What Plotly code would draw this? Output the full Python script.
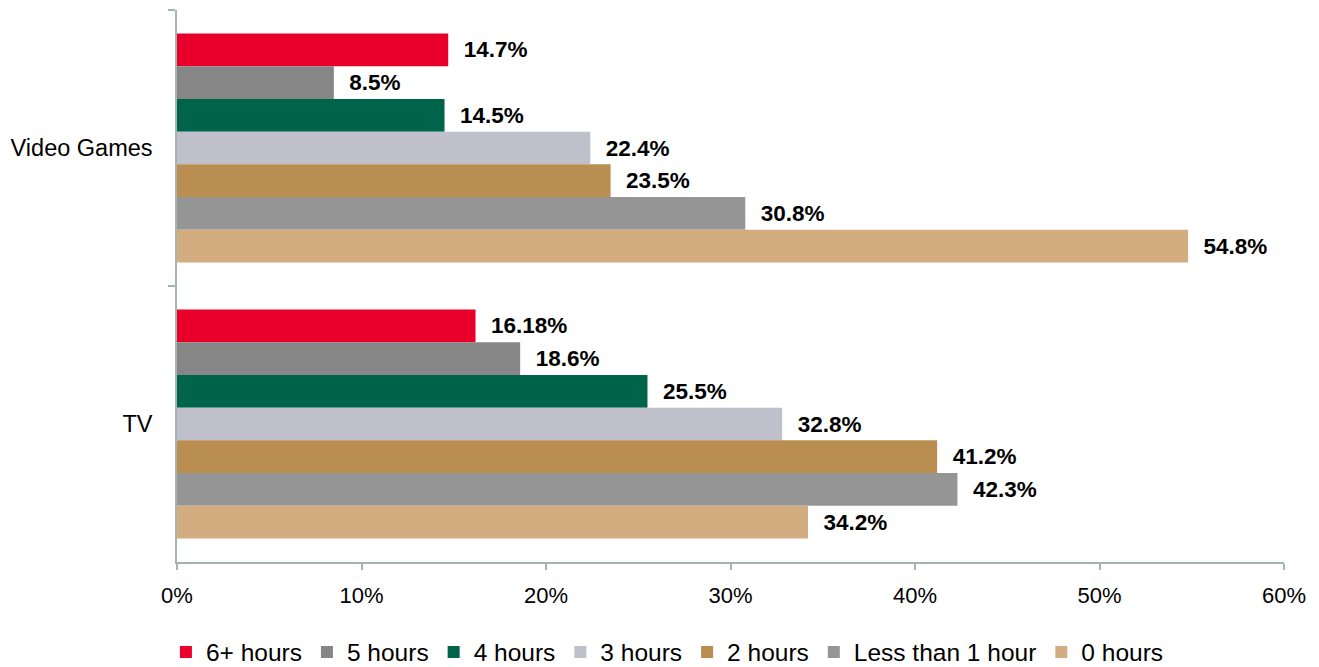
import plotly.graph_objects as go

categories = ["Video Games", "TV"]
series_names = ["6+ hours", "5 hours", "4 hours", "3 hours", "2 hours",
                "Less than 1 hour", "0 hours"]
video_games = [14.7, 8.5, 14.5, 22.4, 23.5, 30.8, 54.8]
tv = [16.18, 18.6, 25.5, 32.8, 41.2, 42.3, 34.2]
label_video_games = ["14.7%", "8.5%", "14.5%", "22.4%", "23.5%", "30.8%", "54.8%"]
label_tv = ["16.18%", "18.6%", "25.5%", "32.8%", "41.2%", "42.3%", "34.2%"]
colors = ["#E8002A", "#868686", "#00644A", "#C0BFCC", "#BA8E50", "#959595", "#D3AC80"]
x_ticks = [0, 10, 20, 30, 40, 50, 60]
x_tick_labels = ["0%", "10%", "20%", "30%", "40%", "50%", "60%"]

FONT = "Liberation Sans"
AXIS_COLOR = "#A3B5B1"
PAD = "\u00a0\u00a0"

fig = go.Figure()
for i, name in enumerate(series_names):
    fig.add_trace(go.Bar(
        name=name,
        orientation="h",
        y=categories,
        x=[video_games[i], tv[i]],
        text=[PAD + label_video_games[i], PAD + label_tv[i]],
        textposition="outside",
        textfont=dict(family=FONT, size=22.5, color="black", weight="bold"),
        cliponaxis=False,
        marker=dict(color=colors[i], line=dict(width=0)),
    ))

fig.update_layout(
    width=1319, height=667,
    margin=dict(l=177, r=35, t=10, b=105, autoexpand=False),
    paper_bgcolor="white", plot_bgcolor="white",
    barmode="group", bargap=0.17, bargroupgap=0,
    font=dict(family=FONT, size=22, color="black"),
    showlegend=True,
    legend=dict(orientation="h", x=0.443, xanchor="center", y=-0.163,
                yanchor="middle", font=dict(family=FONT, size=24.5),
                itemwidth=30, tracegroupgap=0),
    xaxis=dict(range=[0, 60], tickvals=x_ticks, ticktext=x_tick_labels,
               showgrid=False, zeroline=False, showline=True,
               linecolor=AXIS_COLOR, linewidth=1.5, ticks="outside",
               ticklen=6, tickcolor=AXIS_COLOR, tickwidth=1.5,
               tickfont=dict(family=FONT, size=22), ticklabelstandoff=7),
    yaxis=dict(categoryorder="array", categoryarray=categories,
               autorange="reversed", showgrid=False, showline=True,
               linecolor=AXIS_COLOR, linewidth=1.5, ticks="outside",
               tickson="boundaries", ticklen=7, tickcolor=AXIS_COLOR,
               tickwidth=1.5, tickfont=dict(family=FONT, size=23.5),
               ticklabelstandoff=18),
)

fig.write_html("out.html")
